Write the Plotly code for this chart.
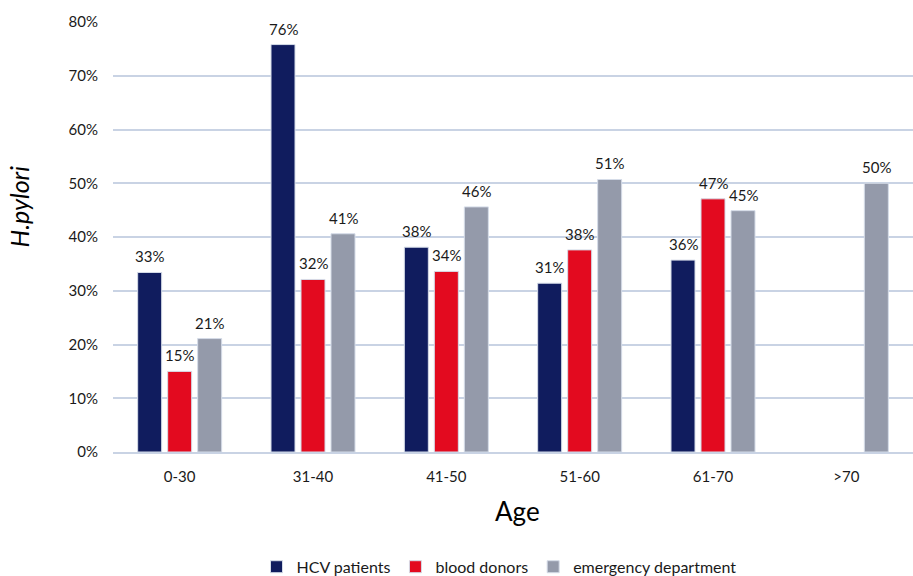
import plotly.graph_objects as go

# Age groups on the x axis
age_groups = ["0-30", "31-40", "41-50", "51-60", "61-70", ">70"]

# H. pylori prevalence (fraction) per age group for each cohort
hcv_patients = [0.334, 0.758, 0.381, 0.314, 0.357, None]
blood_donors = [0.150, 0.321, 0.336, 0.376, 0.471, None]
emergency_department = [0.211, 0.406, 0.456, 0.507, 0.449, 0.500]

series_names = ["HCV patients", "blood donors", "emergency department"]
series_colors = ["#101C5E", "#E30A1F", "#949AAA"]
series_values = [hcv_patients, blood_donors, emergency_department]

FONT = "Lato, 'Open Sans', sans-serif"
WIDTH, HEIGHT = 913, 576
MARGIN = dict(l=113, r=0, t=22, b=124)
BARGAP, BARGROUPGAP = 0.325, 0.2

fig = go.Figure()
for name, color, values in zip(series_names, series_colors, series_values):
    fig.add_trace(go.Bar(
        x=age_groups,
        y=values,
        name=name,
        marker=dict(color=color, line=dict(color="#D5DCE8", width=1)),
        hovertemplate="%{x}: %{y:.1%}<extra>" + name + "</extra>",
    ))

# Value labels above each bar, shifted sideways to sit over their bar in the group
plot_w = WIDTH - MARGIN["l"] - MARGIN["r"]
slot_px = plot_w / len(age_groups) * (1 - BARGAP) / len(series_values)
annotations = []
for i, values in enumerate(series_values):
    offset = (i - (len(series_values) - 1) / 2) * slot_px
    for cat, v in zip(age_groups, values):
        if v is None:
            continue
        annotations.append(dict(
            x=cat, y=v, xref="x", yref="y",
            text=f"{round(v * 100)}%",
            showarrow=False,
            xanchor="center", yanchor="bottom",
            xshift=offset, yshift=5,
            font=dict(family=FONT, size=15, color="#1a1a1a"),
        ))

annotations += [
    dict(
        text="<i>H.pylori</i>",
        xref="paper", yref="paper",
        x=-0.118, y=0.57,
        xanchor="center", yanchor="middle",
        textangle=-90,
        showarrow=False,
        font=dict(family=FONT, size=25, color="#000000"),
    ),
    dict(
        text="Age",
        xref="paper", yref="paper",
        x=0.506, y=-0.137,
        xanchor="center", yanchor="middle",
        showarrow=False,
        font=dict(family=FONT, size=26, color="#000000"),
    ),
]

fig.update_layout(
    width=WIDTH,
    height=HEIGHT,
    margin=dict(**MARGIN, autoexpand=False),
    paper_bgcolor="white",
    plot_bgcolor="white",
    barmode="group",
    bargap=BARGAP,
    bargroupgap=BARGROUPGAP,
    font=dict(family=FONT, size=15, color="#1a1a1a"),
    showlegend=True,
    legend=dict(
        orientation="h",
        x=0.4825,
        xanchor="center",
        y=-0.267,
        yanchor="middle",
        font=dict(family=FONT, size=16, color="#1a1a1a"),
        itemwidth=30,
        traceorder="normal",
    ),
    xaxis=dict(
        showgrid=False,
        showline=True,
        linecolor="#C9D3E4",
        linewidth=1.5,
        ticks="",
        ticklabelstandoff=10,
        tickfont=dict(family=FONT, size=15, color="#1a1a1a"),
        fixedrange=True,
    ),
    yaxis=dict(
        range=[0, 0.8],
        dtick=0.1,
        tickformat=".0%",
        showgrid=True,
        gridcolor="#C9D3E4",
        gridwidth=1.5,
        zeroline=False,
        showline=False,
        ticks="",
        ticklabelstandoff=14,
        tickfont=dict(family=FONT, size=15, color="#1a1a1a"),
        fixedrange=True,
    ),
    annotations=annotations,
)

fig.write_html("out.html")
